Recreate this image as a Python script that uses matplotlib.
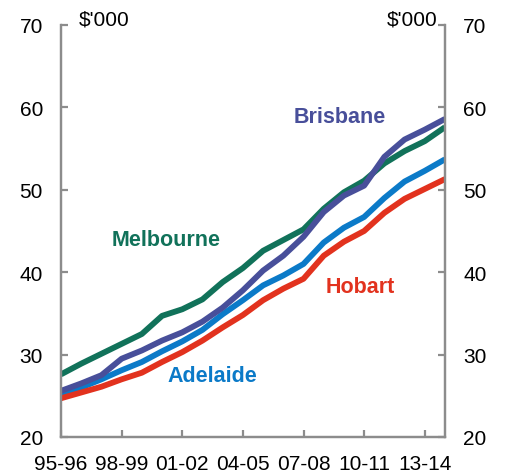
import matplotlib
matplotlib.use("Agg")
import matplotlib.pyplot as plt

# ===============================
# Data ($'000, financial years)
# ===============================
years = ["95-96", "96-97", "97-98", "98-99", "99-00", "00-01", "01-02", "02-03",
         "03-04", "04-05", "05-06", "06-07", "07-08", "08-09", "09-10", "10-11",
         "11-12", "12-13", "13-14", "14-15"]

melbourne = [27.6, 28.9, 30.1, 31.3, 32.5, 34.7, 35.5, 36.7, 38.8, 40.5,
             42.6, 43.9, 45.2, 47.7, 49.7, 51.1, 53.2, 54.7, 55.9, 57.6]
brisbane = [25.6, 26.5, 27.5, 29.5, 30.5, 31.7, 32.7, 34.0, 35.7, 37.8,
            40.2, 42.0, 44.3, 47.3, 49.3, 50.5, 54.0, 56.1, 57.3, 58.6]
adelaide = [25.2, 26.0, 27.0, 28.1, 29.1, 30.4, 31.6, 33.0, 34.9, 36.6,
            38.4, 39.6, 41.0, 43.6, 45.4, 46.7, 49.0, 51.0, 52.3, 53.7]
hobart = [24.7, 25.4, 26.1, 27.0, 27.8, 29.1, 30.3, 31.7, 33.3, 34.8,
          36.6, 38.0, 39.2, 42.0, 43.7, 45.0, 47.2, 48.9, 50.1, 51.3]

yticks = [20, 30, 40, 50, 60, 70]

GREEN = "#11725a"
PURPLE = "#484f9a"
BLUE = "#0b7ac8"
RED = "#e2321e"
GREY = "#8c8c8c"

plt.rcParams["font.family"] = ["Liberation Sans", "DejaVu Sans"]

# ===============================
# Figure
# ===============================
fig = plt.figure(figsize=(5.06, 4.77), dpi=100)
ax = fig.add_axes([0.1206, 0.0818, 0.7588, 0.8637])

x = list(range(len(years)))
ax.plot(x, melbourne, color=GREEN, lw=4.2, solid_capstyle="butt")
ax.plot(x, adelaide, color=BLUE, lw=4.2, solid_capstyle="butt")
ax.plot(x, hobart, color=RED, lw=4.2, solid_capstyle="butt")
ax.plot(x, brisbane, color=PURPLE, lw=4.2, solid_capstyle="butt")

ax.set_xlim(0, len(years) - 1)
ax.set_ylim(20, 70)

ax.set_xticks(x[::3])
ax.set_xticklabels(years[::3])
ax.set_yticks(yticks)

ax2 = ax.twinx()
ax2.set_ylim(20, 70)
ax2.set_yticks(yticks)

for a in (ax, ax2):
    a.spines["top"].set_visible(False)
    for s in ("left", "right", "bottom"):
        a.spines[s].set_color(GREY)
        a.spines[s].set_linewidth(1.6)
    a.tick_params(direction="in", length=5, width=1.6, color=GREY,
                  labelsize=15, labelcolor="black")
ax.tick_params(axis="y", pad=13)
ax.tick_params(axis="x", pad=12)
ax2.tick_params(axis="y", pad=13)

ax.text(0.045, 0.992, "$'000", transform=ax.transAxes, fontsize=15,
        ha="left", va="bottom")
ax.text(0.98, 0.992, "$'000", transform=ax.transAxes, fontsize=15,
        ha="right", va="bottom")

# series labels
ax.text(13.8, 58.9, "Brisbane", color=PURPLE, fontsize=15.5, weight="bold",
        ha="center", va="center")
ax.text(5.2, 44.0, "Melbourne", color=GREEN, fontsize=15.5, weight="bold",
        ha="center", va="center")
ax.text(14.8, 38.3, "Hobart", color=RED, fontsize=15.5, weight="bold",
        ha="center", va="center")
ax.text(7.5, 27.5, "Adelaide", color=BLUE, fontsize=15.5, weight="bold",
        ha="center", va="center")

fig.savefig("out.png", dpi=100)
